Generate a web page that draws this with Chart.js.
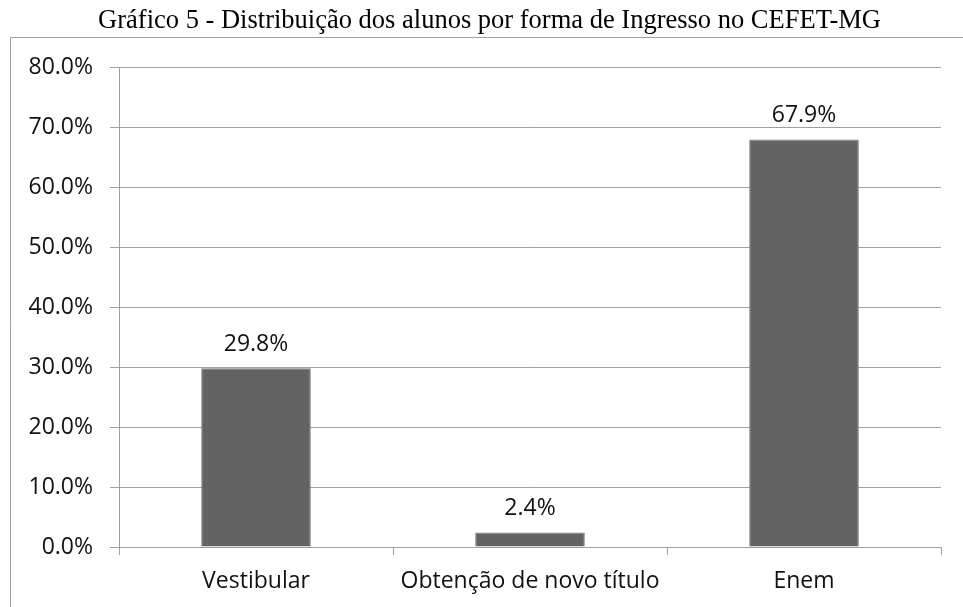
<!DOCTYPE html>
<html>
<head>
<meta charset="utf-8">
<script src="https://cdn.jsdelivr.net/npm/chart.js@4"></script>
<style>
  html, body { margin: 0; padding: 0; background: #fff; }
  canvas { display: block; }
</style>
</head>
<body>
<canvas id="chart" width="963" height="607"></canvas>
<script>
const chartTitle = 'Gráfico 5 - Distribuição dos alunos por forma de Ingresso no CEFET-MG';
const categories = ['Vestibular', 'Obtenção de novo título', 'Enem'];
const percentages = [29.8, 2.4, 67.9];
const yTicks = [0, 10, 20, 30, 40, 50, 60, 70, 80];

const bodyFont = { family: '"Open Sans", sans-serif', size: 23 };
const titleFont = '26.5px "Liberation Serif", "Times New Roman", serif';
const gridGray = '#a0a0a0';

// title + frame around the plot (left + top edges visible in the original)
const framePlugin = {
  id: 'frame',
  beforeDraw(chart) {
    const ctx = chart.ctx;
    ctx.save();
    ctx.strokeStyle = gridGray;
    ctx.lineWidth = 1;
    ctx.beginPath();
    ctx.moveTo(10.5, chart.height + 5);
    ctx.lineTo(10.5, 37.5);
    ctx.lineTo(chart.width + 5, 37.5);
    ctx.stroke();
    ctx.font = titleFont;
    ctx.fillStyle = '#000';
    ctx.textAlign = 'center';
    ctx.textBaseline = 'middle';
    ctx.fillText(chartTitle, 489.5, 21);
    ctx.restore();
  }
};

// value labels above the bars
const valueLabels = {
  id: 'valueLabels',
  afterDatasetsDraw(chart) {
    const ctx = chart.ctx;
    const meta = chart.getDatasetMeta(0);
    ctx.save();
    ctx.font = bodyFont.size + 'px ' + bodyFont.family;
    ctx.fillStyle = '#111';
    ctx.textAlign = 'center';
    ctx.textBaseline = 'middle';
    meta.data.forEach((bar, i) => {
      const v = chart.data.datasets[0].data[i];
      ctx.fillText(v.toFixed(1) + '%', bar.x, bar.y - 24);
    });
    ctx.restore();
  }
};

new Chart(document.getElementById('chart').getContext('2d'), {
  type: 'bar',
  data: {
    labels: categories,
    datasets: [{
      data: percentages,
      backgroundColor: '#636363',
      borderColor: '#7d7d7d',
      borderWidth: 1,
      barPercentage: 0.4,
      categoryPercentage: 1.0
    }]
  },
  options: {
    responsive: false,
    animation: false,
    layout: { padding: { left: 0, right: 22, top: 67, bottom: 0 } },
    plugins: {
      legend: { display: false },
      tooltip: { enabled: false },
      title: { display: false }
    },
    scales: {
      x: {
        grid: { display: true, offset: true, drawOnChartArea: false, color: gridGray, tickLength: 8 },
        border: { color: gridGray },
        ticks: { color: '#111', font: bodyFont, padding: 13, maxRotation: 0 },
        afterFit(scale) { scale.height = 60; }
      },
      y: {
        min: 0,
        max: 80,
        afterBuildTicks(scale) { scale.ticks = yTicks.map(v => ({ value: v })); },
        grid: { color: gridGray, tickLength: 9 },
        border: { color: gridGray },
        ticks: {
          color: '#111',
          font: bodyFont,
          padding: 17,
          callback: v => v.toFixed(1) + '%'
        },
        afterFit(scale) { scale.width = 119; }
      }
    }
  },
  plugins: [framePlugin, valueLabels]
});
</script>
</body>
</html>
